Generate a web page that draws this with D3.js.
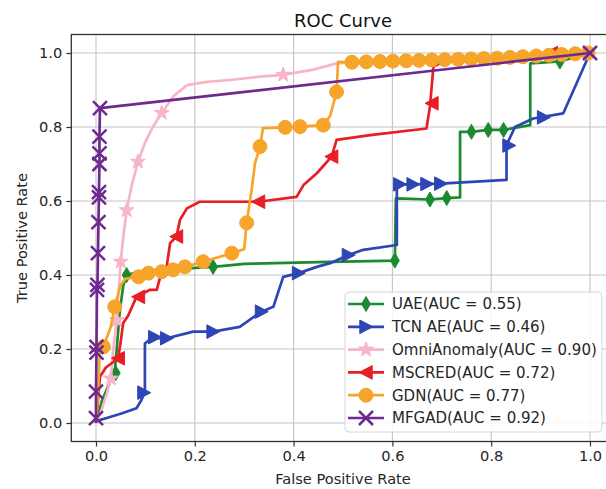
<!DOCTYPE html>
<html><head><meta charset="utf-8">
<script src="https://cdn.jsdelivr.net/npm/d3@7"></script>
<style>body{margin:0;background:#fff}svg{display:block;font-family:"DejaVu Sans",sans-serif}</style>
</head><body><svg id="c" width="606" height="489"></svg>
<script>
// ---- data ----
const xTicks = [0.0, 0.2, 0.4, 0.6, 0.8, 1.0];
const yTicks = [0.0, 0.2, 0.4, 0.6, 0.8, 1.0];
const seriesNames = ["UAE(AUC = 0.55)","TCN AE(AUC = 0.46)","OmniAnomaly(AUC = 0.90)","MSCRED(AUC = 0.72)","GDN(AUC = 0.77)","MFGAD(AUC = 0.92)"];

const uaeLine = [[0,0],[0.004,0.02],[0.012,0.06],[0.025,0.1],[0.038,0.14],[0.042,0.2],[0.048,0.3],[0.055,0.37],[0.062,0.4],[0.09,0.41],[0.15,0.415],[0.237,0.422],[0.3,0.43],[0.45,0.435],[0.605,0.439],[0.607,0.607],[0.676,0.604],[0.71,0.608],[0.737,0.61],[0.737,0.787],[0.76,0.787],[0.794,0.792],[0.825,0.792],[0.879,0.805],[0.879,0.972],[0.939,0.977],[1,1]];
const uaeMarks = [[0.04,0.135],[0.062,0.4],[0.237,0.422],[0.605,0.439],[0.676,0.604],[0.71,0.608],[0.76,0.787],[0.794,0.792],[0.825,0.792],[0.939,0.977]];

const tcnLine = [[0,0.005],[0.02,0.013],[0.05,0.025],[0.082,0.04],[0.092,0.062],[0.099,0.085],[0.099,0.215],[0.113,0.23],[0.143,0.229],[0.197,0.247],[0.237,0.247],[0.291,0.26],[0.335,0.301],[0.359,0.314],[0.379,0.395],[0.41,0.405],[0.447,0.422],[0.474,0.432],[0.511,0.454],[0.541,0.468],[0.609,0.481],[0.609,0.645],[0.642,0.645],[0.67,0.646],[0.698,0.647],[0.831,0.657],[0.831,0.751],[0.848,0.8],[0.885,0.823],[0.946,0.837],[1,1]];
const tcnMarks = [[0.097,0.082],[0.119,0.232],[0.143,0.229],[0.237,0.247],[0.335,0.301],[0.41,0.405],[0.511,0.454],[0.615,0.645],[0.642,0.645],[0.67,0.646],[0.698,0.647],[0.836,0.75],[0.906,0.826]];

const omniLine = [[0,0],[0.01,0.03],[0.022,0.08],[0.03,0.12],[0.035,0.2],[0.042,0.278],[0.046,0.36],[0.05,0.436],[0.055,0.5],[0.062,0.575],[0.072,0.64],[0.085,0.706],[0.1,0.76],[0.115,0.8],[0.133,0.838],[0.156,0.882],[0.184,0.913],[0.224,0.922],[0.271,0.927],[0.332,0.936],[0.379,0.941],[0.44,0.955],[0.487,0.972],[0.6,0.98],[0.8,0.99],[1,1]];
const omniMarks = [[0.03,0.12],[0.042,0.278],[0.05,0.436],[0.062,0.575],[0.085,0.706],[0.133,0.838],[0.379,0.941]];

const mscredLine = [[0,0],[0.004,0.06],[0.008,0.125],[0.02,0.15],[0.045,0.175],[0.05,0.22],[0.055,0.27],[0.065,0.29],[0.082,0.341],[0.109,0.36],[0.123,0.36],[0.13,0.395],[0.143,0.422],[0.15,0.486],[0.163,0.504],[0.17,0.549],[0.184,0.58],[0.21,0.598],[0.329,0.598],[0.406,0.611],[0.42,0.643],[0.447,0.675],[0.477,0.72],[0.487,0.765],[0.555,0.778],[0.669,0.796],[0.676,0.855],[0.683,0.963],[0.7,0.975],[0.8,0.985],[0.92,0.999],[1,1]];
const mscredMarks = [[0.045,0.175],[0.086,0.341],[0.163,0.504],[0.329,0.598],[0.477,0.72],[0.68,0.864],[0.922,1.0]];

const gdnLine = [[0,0],[0.004,0.08],[0.008,0.2],[0.015,0.206],[0.03,0.26],[0.038,0.314],[0.045,0.35],[0.05,0.373],[0.06,0.39],[0.086,0.395],[0.106,0.405],[0.133,0.409],[0.156,0.414],[0.18,0.422],[0.217,0.436],[0.275,0.459],[0.3,0.47],[0.305,0.541],[0.315,0.63],[0.322,0.703],[0.332,0.747],[0.338,0.797],[0.383,0.799],[0.413,0.801],[0.46,0.805],[0.474,0.83],[0.487,0.895],[0.49,0.976],[0.518,0.975],[0.547,0.976],[0.575,0.977],[0.601,0.978],[0.628,0.979],[0.654,0.98],[0.68,0.981],[0.706,0.982],[0.733,0.983],[0.759,0.984],[0.785,0.985],[0.812,0.986],[0.838,0.988],[0.864,0.99],[0.891,0.992],[0.917,0.994],[0.943,0.996],[0.97,0.998],[0.996,1.0],[1,1]];
const gdnMarks = [[0.015,0.206],[0.038,0.314],[0.086,0.395],[0.106,0.405],[0.133,0.409],[0.156,0.414],[0.18,0.422],[0.217,0.436],[0.275,0.459],[0.305,0.541],[0.332,0.747],[0.383,0.799],[0.413,0.801],[0.46,0.805],[0.487,0.895],[0.518,0.975],[0.547,0.976],[0.575,0.977],[0.601,0.978],[0.628,0.979],[0.654,0.98],[0.68,0.981],[0.706,0.982],[0.733,0.983],[0.759,0.984],[0.785,0.985],[0.812,0.986],[0.838,0.988],[0.864,0.99],[0.891,0.992],[0.917,0.994],[0.943,0.996],[0.97,0.998],[0.996,1.0]];

const mfgadLine = [[0,0],[0,0.013],[0,0.085],[0.001,0.19],[0.001,0.206],[0.002,0.36],[0.003,0.373],[0.004,0.459],[0.005,0.543],[0.006,0.61],[0.006,0.624],[0.007,0.7],[0.007,0.729],[0.007,0.774],[0.008,0.851],[1,1]];
const mfgadMarks = mfgadLine.slice(1);

const colors = ["#1b8a30","#2e45b5","#f7b5c7","#e91d25","#f6a42a","#6d2a8f"];
const markerTypes = ["thin_diamond","tri_right","star","tri_left","circle","x"];

// ---- chart ----
const svg = d3.select("#c");
const x = d3.scaleLinear().domain([-0.05,1.05]).range([71.3,614.7]);
const y = d3.scaleLinear().domain([-0.05,1.05]).range([441.5,34.5]);
const L = 71.3, R = 614.7, T = 34.5, B = 441.5;

// grid
svg.append("g").selectAll("line").data(xTicks).join("line")
  .attr("x1",d=>x(d)).attr("x2",d=>x(d)).attr("y1",T).attr("y2",B)
  .attr("stroke","#c4c4c4").attr("stroke-width",1.1);
svg.append("g").selectAll("line").data(yTicks).join("line")
  .attr("y1",d=>y(d)).attr("y2",d=>y(d)).attr("x1",L).attr("x2",R)
  .attr("stroke","#c4c4c4").attr("stroke-width",1.1);

// axes
const fmt = d3.format(".1f");
const gx = svg.append("g").attr("transform",`translate(0,${B})`)
  .call(d3.axisBottom(x).tickValues(xTicks).tickFormat(fmt).tickSize(5).tickPadding(4));
const gy = svg.append("g").attr("transform",`translate(${L},0)`)
  .call(d3.axisLeft(y).tickValues(yTicks).tickFormat(fmt).tickSize(5).tickPadding(4));
[gx,gy].forEach(g=>{
  g.select(".domain").remove();
  g.selectAll("line").attr("stroke","#333").attr("stroke-width",1.2);
  g.selectAll("text").attr("font-size",14.6).attr("fill","#262626").attr("font-family","DejaVu Sans");
});

// frame
svg.append("rect").attr("x",L).attr("y",T).attr("width",R-L).attr("height",B-T)
  .attr("fill","none").attr("stroke","#333").attr("stroke-width",1.3);

// clip
svg.append("clipPath").attr("id","clip").append("rect").attr("x",L).attr("y",T).attr("width",R-L).attr("height",B-T);

function markerPath(type){
  switch(type){
    case "thin_diamond": return "M0,-7.5L4.4,0L0,7.5L-4.4,0Z";
    case "tri_right": return "M6.8,0L-6.2,-6.8L-6.2,6.8Z";
    case "tri_left": return "M-6.8,0L6.2,-6.8L6.2,6.8Z";
    case "star": {
      const pts=[];for(let i=0;i<10;i++){const r=i%2?3.1:7.8;const a=-Math.PI/2+i*Math.PI/5;pts.push([r*Math.cos(a),r*Math.sin(a)]);}
      return "M"+pts.map(p=>p.join(",")).join("L")+"Z";}
    case "circle": return d3.symbol(d3.symbolCircle, Math.PI*7*7)();
    case "x": return "M-7,-7L7,7M-7,7L7,-7";
  }
}
function drawMarker(g, type, color){
  if(type==="x"){
    g.append("path").attr("d",markerPath(type)).attr("stroke",color).attr("stroke-width",2.5).attr("fill","none");
  } else {
    g.append("path").attr("d",markerPath(type)).attr("fill",color).attr("stroke",color).attr("stroke-width",1);
  }
}

const lines = [uaeLine,tcnLine,omniLine,mscredLine,gdnLine,mfgadLine];
const marks = [uaeMarks,tcnMarks,omniMarks,mscredMarks,gdnMarks,mfgadMarks];
const plot = svg.append("g").attr("clip-path","url(#clip)");
const lineGen = d3.line().x(d=>x(d[0])).y(d=>y(d[1]));
lines.forEach((ln,i)=>{
  const g = plot.append("g");
  g.append("path").attr("d",lineGen(ln)).attr("fill","none").attr("stroke",colors[i])
    .attr("stroke-width",2.7).attr("stroke-linejoin","round");
  marks[i].forEach(p=>{
    const mg = g.append("g").attr("transform",`translate(${x(p[0])},${y(p[1])})`);
    drawMarker(mg, markerTypes[i], colors[i]);
  });
});

// title & labels
svg.append("text").attr("x",(L+R)/2).attr("y",27).attr("text-anchor","middle")
  .attr("font-size",18).attr("fill","#111").text("ROC Curve");
svg.append("text").attr("x",(L+R)/2).attr("y",484).attr("text-anchor","middle")
  .attr("font-size",14.6).attr("fill","#262626").text("False Positive Rate");
svg.append("text").attr("transform",`translate(27,${(T+B)/2}) rotate(-90)`).attr("text-anchor","middle")
  .attr("font-size",14.6).attr("fill","#262626").text("True Positive Rate");

// legend
const lg = svg.append("g");
lg.append("rect").attr("x",345).attr("y",292).attr("width",257).attr("height",140).attr("rx",4)
  .attr("fill","#fff").attr("fill-opacity",0.85).attr("stroke","#d6d6d6").attr("stroke-width",1);
seriesNames.forEach((nm,i)=>{
  const cy = 304 + i*22.8;
  const row = lg.append("g");
  row.append("line").attr("x1",348).attr("x2",384).attr("y1",cy).attr("y2",cy)
    .attr("stroke",colors[i]).attr("stroke-width",2.7);
  drawMarker(row.append("g").attr("transform",`translate(366,${cy})`), markerTypes[i], colors[i]);
  row.append("text").attr("x",392).attr("y",cy+5.3).attr("font-size",15).attr("fill","#262626").text(nm);
});
</script></body></html>
